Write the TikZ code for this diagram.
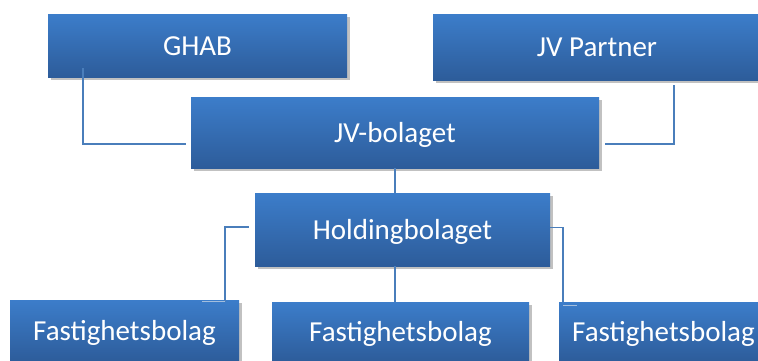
\documentclass[tikz,border=0pt]{standalone}
\usepackage{fontspec}
\setmainfont{Carlito}
\usetikzlibrary{shadows,calc}
\definecolor{boxtop}{RGB}{60,125,202}
\definecolor{boxbot}{RGB}{45,92,154}
\definecolor{connc}{RGB}{74,126,187}
\tikzset{
  orgbox/.style={rectangle, top color=boxtop, bottom color=boxbot, draw=none,
    text=white, font=\fontsize{29}{34}\selectfont, inner sep=0pt,
    text height=19pt, text depth=0pt,
    drop shadow={shadow xshift=2.5pt, shadow yshift=-3pt, opacity=0.35, fill=black!70}},
  conn/.style={draw=connc, line width=1.8pt},
  tick/.style={draw=connc!50, line width=1.2pt}
}
\begin{document}
\begin{tikzpicture}[x=1pt,y=-1pt]
\useasboundingbox (0,0) rectangle (758,360);
\node[orgbox, minimum width=299pt, minimum height=63pt] (ghab) at (197.5,45.5) {GHAB};
\node[orgbox, minimum width=328pt, minimum height=66pt] (jvp) at (597,47) {JV Partner};
\node[orgbox, minimum width=408pt, minimum height=71pt] (jv) at (395,132.5) {JV-bolaget};
\node[orgbox, minimum width=295pt, minimum height=73pt] (hold) at (402.5,229.5) {Holdingbolaget};
\node[orgbox, minimum width=229pt, minimum height=62pt] (f1) at (124.5,331) {Fastighetsbolag};
\node[orgbox, minimum width=257pt, minimum height=60pt] (f2) at (400.5,332) {Fastighetsbolag};
\node[orgbox, minimum width=209pt, minimum height=60pt] (f3) at (663.5,332) {Fastighetsbolag};
% connectors
\draw[conn] ([shift={(35,-9)}]ghab.south west) |- ([shift={(-5,11.5)}]jv.west);
\draw[conn] ([shift={(77,5)}]jvp.south) |- ([shift={(6,11.5)}]jv.east);
\draw[conn] (jv.south) -- (jv.south |- hold.north);
\draw[conn] (hold.south -| jv.south) -- (jv.south |- f2.north);
\coordinate (lt) at ([shift={(100.5,2)}]f1.north);
\draw[conn] ([shift={(-6,-2.5)}]hold.west) -| (lt);
\draw[tick] (lt) -- ++(-23,0);
\coordinate (rt) at ([shift={(4,0)}]f3.north west);
\draw[conn] ([shift={(0,-2)}]hold.east) -| (rt);
\draw[tick] ([shift={(0,4)}]rt) -- ++(14,0);
\end{tikzpicture}
\end{document}
